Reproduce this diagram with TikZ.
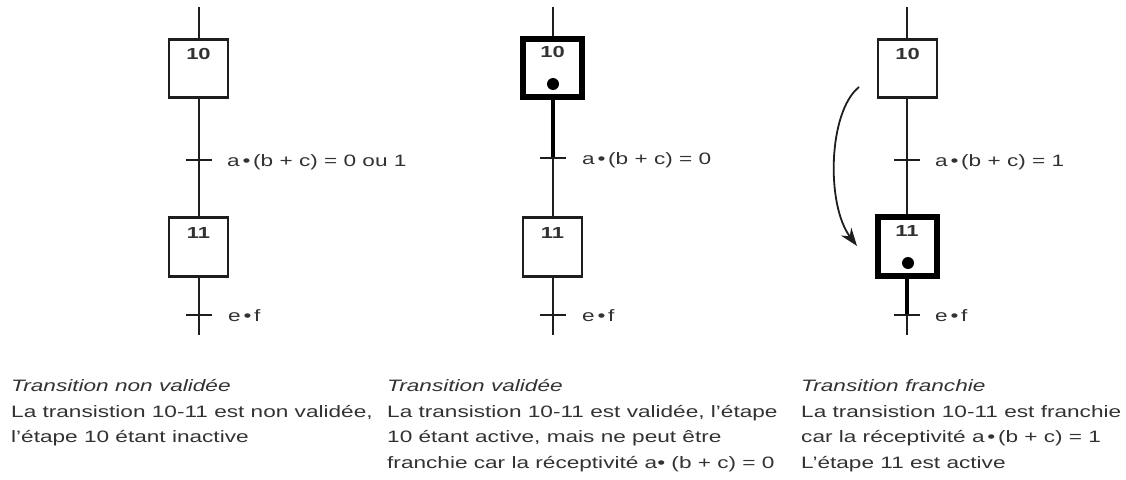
\documentclass[tikz,border=0pt]{standalone}
\usepackage{fontspec}
\setmainfont{Liberation Sans}[FakeStretch=1.37]
\usetikzlibrary{arrows.meta}
\definecolor{ink}{RGB}{30,30,30}
\definecolor{txt}{RGB}{50,50,50}
\begin{document}
\begin{tikzpicture}[x=1pt,y=-1pt,
  stepbox/.style={draw=ink, line width=2.6pt, minimum width=59pt, minimum height=58.5pt, inner sep=0pt},
  activebox/.style={stepbox, draw=black, line width=6pt},
  wire/.style={draw=ink, line width=1.3pt},
  thickwire/.style={draw=black, line width=4.3pt},
  tickmark/.style={draw=ink, line width=2pt},
  num/.style={anchor=base, font=\bfseries\fontsize{16}{20}\selectfont, text=txt, inner sep=0pt},
  cond/.style={anchor=base west, font=\fontsize{16.5}{20}\selectfont, text=txt, inner sep=0pt},
  capt/.style={anchor=base west, font=\fontsize{16.5}{20}\selectfont, text=txt, inner sep=0pt},
  token/.style={circle, fill=black, inner sep=0pt, minimum size=12pt},
  moveto/.style={draw=ink, line width=1.8pt, -{Stealth[length=18pt,width=13pt]}}
]
\useasboundingbox (0,0) rectangle (1126,479);

% ---------- column 1 ----------
\coordinate (a0) at (199,7);
\node[stepbox] (a10) at (198.5,68.5) {};
\node[num] (a10n) at ([yshift=-22pt]a10.north) {10};
\coordinate (at1) at (199,160);
\node[stepbox] (a11) at (198.5,247) {};
\node[num] (a11n) at ([yshift=-22pt]a11.north) {11};
\coordinate (at2) at (199,315);
\coordinate (aend) at (199,335);
\draw[wire] (a0) -- (a0 |- a10.north);
\draw[wire] (a0 |- a10.south) -- (a0 |- a11.north);
\draw[wire] (a0 |- a11.south) -- (aend);
\draw[tickmark] ([xshift=-13pt]at1) -- ([xshift=13pt]at1);
\draw[tickmark] ([xshift=-13pt]at2) -- ([xshift=13pt]at2);
\node[cond] (ac1) at (227,166) {a\,•\,(b + c) = 0 ou 1};
\node[cond] (ac2) at (228,321) {e\,•\,f};

% ---------- column 2 ----------
\coordinate (b0) at (553,7);
\node[activebox] (b10) at (552.5,68) {};
\node[num] (b10n) at ([yshift=-22pt]b10.north) {10};
\node[token] (b10t) at (553,84) {};
\coordinate (bt1) at (553,158);
\node[stepbox] (b11) at (552.5,247) {};
\node[num] (b11n) at ([yshift=-22pt]b11.north) {11};
\coordinate (bt2) at (553,315);
\coordinate (bend) at (553,335);
\draw[wire] (b0) -- (b0 |- b10.north);
\draw[thickwire] (b0 |- b10.south) -- (bt1);
\draw[wire] (bt1) -- (b0 |- b11.north);
\draw[wire] (b0 |- b11.south) -- (bend);
\draw[tickmark] ([xshift=-13pt]bt1) -- ([xshift=13pt]bt1);
\draw[tickmark] ([xshift=-13pt]bt2) -- ([xshift=13pt]bt2);
\node[cond] (bc1) at (582,164) {a\,•\,(b + c) = 0};
\node[cond] (bc2) at (582,321) {e\,•\,f};

% ---------- column 3 ----------
\coordinate (c0) at (907,7);
\node[stepbox] (c10) at (907.5,68.5) {};
\node[num] (c10n) at ([yshift=-22pt]c10.north) {10};
\coordinate (ct1) at (907,160);
\node[activebox] (c11) at (907,246.5) {};
\node[num] (c11n) at ([yshift=-22pt]c11.north) {11};
\node[token] (c11t) at (908,263) {};
\coordinate (ct2) at (907,315);
\coordinate (cend) at (907,335);
\draw[wire] (c0) -- (c0 |- c10.north);
\draw[wire] (c0 |- c10.south) -- (c0 |- c11.north);
\draw[thickwire] (c0 |- c11.south) -- (ct2);
\draw[wire] (ct2) -- (cend);
\draw[tickmark] ([xshift=-13pt]ct1) -- ([xshift=13pt]ct1);
\draw[tickmark] ([xshift=-13pt]ct2) -- ([xshift=13pt]ct2);
\node[cond] (cc1) at (935,166) {a\,•\,(b + c) = 1};
\node[cond] (cc2) at (935,321) {e\,•\,f};
\coordinate (arrS) at (859,87);
\coordinate (arrE) at (857,246);
\draw[moveto] (arrS) .. controls (828,112) and (826,205) .. (arrE);

% ---------- captions ----------
\node[capt] (capA0) at (11,391.5) {\itshape Transition non validée};
\node[capt] (capA1) at (11,417) {La transistion 10-11 est non validée,};
\node[capt] (capA2) at (11,442.5) {l'étape 10 étant inactive};

\node[capt] (capB0) at (387,391.5) {\itshape Transition validée};
\node[capt] (capB1) at (387,417) {La transistion 10-11 est validée, l'étape};
\node[capt] (capB2) at (387,442.5) {10 étant active, mais ne peut être};
\node[capt] (capB3) at (387,468) {franchie car la réceptivité a• (b + c) = 0};

\node[capt] (capC0) at (801,391.5) {\itshape Transition franchie};
\node[capt] (capC1) at (801,417) {La transistion 10-11 est franchie};
\node[capt] (capC2) at (801,442.5) {car la réceptivité a\,•\,(b + c) = 1};
\node[capt] (capC3) at (801,468) {L'étape 11 est active};
\end{tikzpicture}
\end{document}
